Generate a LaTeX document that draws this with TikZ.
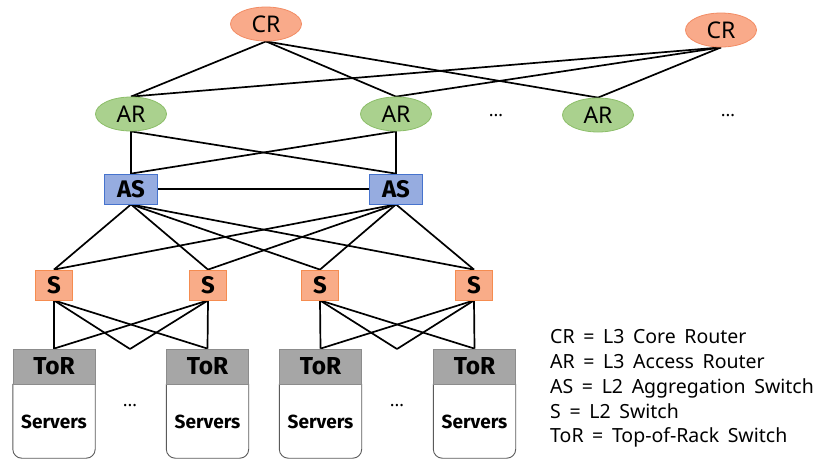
\documentclass[tikz,border=0pt]{standalone}
\usepackage{fontspec}
\setmainfont{Noto Sans}
\newfontfamily\legendfont[WordSpace=1.7]{Noto Sans}
\newfontfamily\bsans{Fira Sans}
\usetikzlibrary{shapes.geometric,backgrounds}
\definecolor{crfill}{RGB}{249,170,138}
\definecolor{crdraw}{RGB}{242,140,100}
\definecolor{arfill}{RGB}{170,209,142}
\definecolor{ardraw}{RGB}{140,190,105}
\definecolor{asfill}{RGB}{150,172,224}
\definecolor{asdraw}{RGB}{70,115,205}
\definecolor{sfill}{RGB}{249,172,136}
\definecolor{sdraw}{RGB}{245,140,80}
\definecolor{torfill}{RGB}{166,166,166}
\definecolor{tordraw}{RGB}{140,140,140}
\definecolor{svdraw}{RGB}{90,90,90}
\tikzset{
  crnode/.style={ellipse, draw=crdraw, fill=crfill, line width=0.8pt, minimum width=71pt, minimum height=34pt, inner sep=0pt, font=\fontsize{23}{24}\selectfont},
  arnode/.style={ellipse, draw=ardraw, fill=arfill, line width=0.8pt, minimum width=71pt, minimum height=34pt, inner sep=0pt, font=\fontsize{23}{24}\selectfont},
  asnode/.style={rectangle, draw=asdraw, fill=asfill, line width=0.8pt, minimum width=53pt, minimum height=30pt, inner sep=0pt, font=\bsans\bfseries\fontsize{24}{24}\selectfont},
  snode/.style={rectangle, draw=sdraw, fill=sfill, line width=0.8pt, minimum width=37pt, minimum height=30pt, inner sep=0pt, font=\bsans\bfseries\fontsize{24}{24}\selectfont},
  tornode/.style={rectangle, draw=tordraw, fill=torfill, line width=0.8pt, minimum width=82pt, minimum height=35pt, inner sep=0pt, font=\bsans\bfseries\fontsize{24.5}{24}\selectfont},
  svnode/.style={rectangle, minimum width=82pt, minimum height=74pt, inner sep=0pt},
  svtext/.style={inner sep=0pt, font=\bsans\bfseries\fontsize{19}{19}\selectfont},
  svline/.style={draw=svdraw, line width=0.9pt, rounded corners=9pt},
  link/.style={line width=1.7pt, black},
  dots/.style={inner sep=0pt, font=\fontsize{18}{20}\selectfont},
  legend/.style={anchor=base west, inner sep=0pt, font=\legendfont\fontsize{19.5}{24}\selectfont}
}
\begin{document}
\begin{tikzpicture}[x=1pt,y=-1pt]
\useasboundingbox (0,0) rectangle (819,459);
% servers boxes
\foreach \n/\x in {1/54,2/207.5,3/320.5,4/474.5}{
  \node[svnode] (sv\n) at (\x,421) {};
  \draw[svline] (sv\n.north west) -- (sv\n.south west) -- (sv\n.south east) -- (sv\n.north east);
  \node[svtext] (svt\n) at (\x,422) {Servers};
}
\coordinate (m1) at (130,349);
\coordinate (m2) at (397,349);
\node[crnode] (cr1) at (266,24) {CR};
\node[crnode] (cr2) at (721,30) {CR};
\node[arnode] (ar1) at (131,114) {AR};
\node[arnode] (ar2) at (396,114) {AR};
\node[arnode] (ar3) at (598,115) {AR};
\node[asnode] (as1) at (131,189) {AS};
\node[asnode] (as2) at (396,189) {AS};
\node[snode] (s1) at (54,285) {S};
\node[snode] (s2) at (208,285) {S};
\node[snode] (s3) at (320,285) {S};
\node[snode] (s4) at (474,285) {S};
\node[tornode] (t1) at (54,366.5) {ToR};
\node[tornode] (t2) at (207.5,366.5) {ToR};
\node[tornode] (t3) at (320.5,366.5) {ToR};
\node[tornode] (t4) at (474.5,366.5) {ToR};
\begin{pgfonlayer}{background}
\foreach \a in {cr1,cr2}{
  \foreach \b in {ar1,ar2,ar3}{
    \draw[link] (\a.south) -- (\b.north);
  }
}
\foreach \a in {ar1,ar2}{
  \foreach \b in {as1,as2}{
    \draw[link] (\a.south) -- (\b.north);
  }
}
\draw[link] (as1.east) -- (as2.west);
\foreach \a in {as1,as2}{
  \foreach \b in {s1,s2,s3,s4}{
    \draw[link] (\a.south) -- (\b.north);
  }
}
\foreach \a in {s1,s2}{
  \draw[link] (\a.south) -- (t1.north);
  \draw[link] (\a.south) -- (m1);
  \draw[link] (\a.south) -- (t2.north);
}
\foreach \a in {s3,s4}{
  \draw[link] (\a.south) -- (t3.north);
  \draw[link] (\a.south) -- (m2);
  \draw[link] (\a.south) -- (t4.north);
}
\end{pgfonlayer}
\node[dots] (d1) at (496,116) {…};
\node[dots] (d2) at (728,116) {…};
\node[dots] (d3) at (130,406) {…};
\node[dots] (d4) at (397,406) {…};
\node[legend] (l1) at (550,343) {CR = L3 Core Router};
\node[legend] (l2) at (550,368) {AR = L3 Access Router};
\node[legend] (l3) at (550,393) {AS = L2 Aggregation Switch};
\node[legend] (l4) at (550,418) {S = L2 Switch};
\node[legend] (l5) at (550,442) {ToR = Top-of-Rack Switch};
\end{tikzpicture}
\end{document}
